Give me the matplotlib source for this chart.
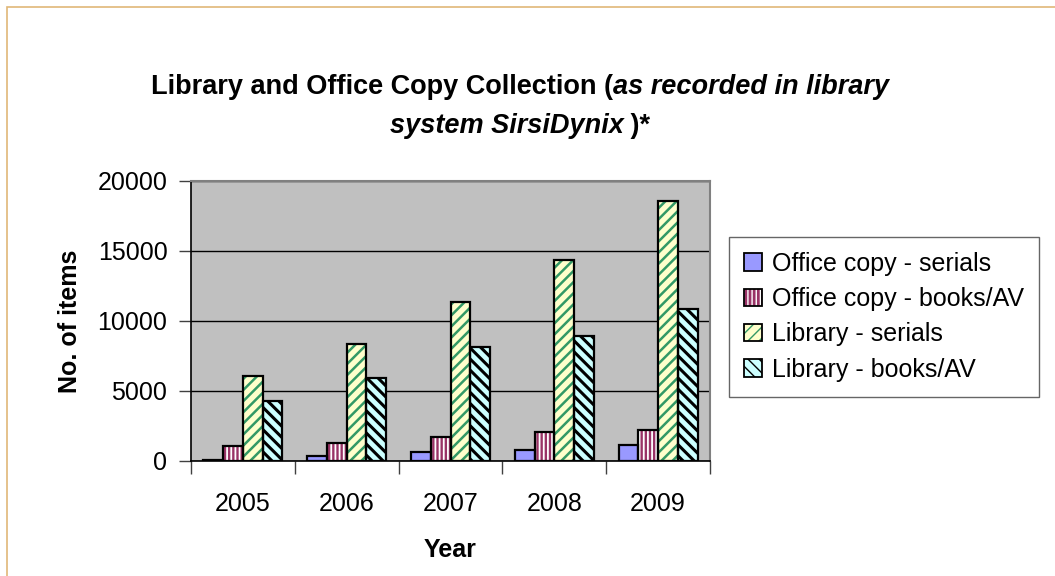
import numpy as np
import matplotlib
matplotlib.use("Agg")
import matplotlib.pyplot as plt
from matplotlib.patches import Patch, Rectangle
from matplotlib.legend_handler import HandlerTuple

plt.rcParams['font.family'] = ['Liberation Sans', 'DejaVu Sans']

# data
years = ['2005', '2006', '2007', '2008', '2009']
office_serials = [100, 390, 620, 770, 1140]
office_books = [1050, 1290, 1690, 2070, 2190]
library_serials = [6050, 8390, 11360, 14340, 18570]
library_books = [4260, 5930, 8120, 8930, 10860]

series = [
    ('Office copy - serials', office_serials),
    ('Office copy - books/AV', office_books),
    ('Library - serials', library_serials),
    ('Library - books/AV', library_books),
]
# face colour, hatch, hatch colour, hatch linewidth
styles = [
    ('#9999FF', '', '#9999FF', 1.0),
    ('#993366', '||||', 'white', 1.3),
    ('#FFFFCC', '///', '#339966', 1.8),
    ('#CCFFFF', '\\\\\\', 'black', 2.2),
]

W, H = 1055, 576
fig = plt.figure(figsize=(W / 100, H / 100), dpi=100)
fig.patch.set_facecolor('white')

# tan chart-area border
fig.add_artist(Rectangle((7 / W, -0.1), 1.2, 1 - 7 / H + 0.1, transform=fig.transFigure,
                         fill=False, edgecolor='#E0B878', linewidth=1.2))

ax = fig.add_axes([191 / W, 1 - 461 / H, 519 / W, 280 / H])
ax.set_facecolor('#C0C0C0')

x = np.arange(len(years))
bw = 0.19
handles = []
for k, ((name, vals), (fc, hatch, hc, hlw)) in enumerate(zip(series, styles)):
    pos = x + (k - 1.5) * bw
    with plt.rc_context({'hatch.linewidth': hlw}):
        ax.bar(pos, vals, bw, facecolor=fc, hatch=hatch, edgecolor=hc, linewidth=0, zorder=3)
        h1 = Patch(facecolor=fc, hatch=hatch, edgecolor=hc, linewidth=0)
    ax.bar(pos, vals, bw, fill=False, edgecolor='black', linewidth=1.6, zorder=4)
    h2 = Patch(fill=False, edgecolor='black', linewidth=1.3)
    handles.append((h1, h2))

ax.set_xlim(-0.5, len(years) - 0.5)
ax.set_ylim(0, 20000)
ax.set_yticks(np.arange(0, 20001, 5000))
ax.yaxis.grid(True, color='black', linewidth=1.0)
ax.set_axisbelow(True)

ax.set_xticks(x)
ax.set_xticklabels(years, fontsize=18)
ax.set_xticks(np.arange(len(years) + 1) - 0.5, minor=True)
ax.tick_params(axis='x', which='major', length=0, pad=22)
ax.tick_params(axis='x', which='minor', length=9, width=1, color='#404040', direction='out')
ax.tick_params(axis='y', labelsize=18, length=9, width=1, color='#404040', pad=8)

for s in ['top', 'right']:
    ax.spines[s].set_color('#808080')
    ax.spines[s].set_linewidth(1.5)
for s in ['left', 'bottom']:
    ax.spines[s].set_color('black')
    ax.spines[s].set_linewidth(1.2)

ax.set_xlabel('Year', fontsize=18, fontweight='bold', labelpad=16)
ax.set_ylabel('No. of items', fontsize=18, fontweight='bold', labelpad=11)

leg = ax.legend(handles, [s[0] for s in series], handler_map={tuple: HandlerTuple(ndivide=1, pad=0)},
                loc='upper left', bbox_to_anchor=(729 / W, 1 - 237 / H), bbox_transform=fig.transFigure,
                fontsize=18, frameon=True, fancybox=False, handlelength=0.7, handleheight=0.7,
                handletextpad=0.4, labelspacing=0.45, borderpad=0.6, borderaxespad=0)
leg.get_frame().set_edgecolor('#404040')
leg.get_frame().set_linewidth(1.0)

# title with italic pieces, centred line by line
title_lines = [
    [('Library and Office Copy Collection (', 'normal'), ('as recorded in library', 'italic')],
    [('system SirsiDynix', 'italic'), (' )*', 'normal')],
]
renderer = fig.canvas.get_renderer()
cx = 520 / W
for line, yc in zip(title_lines, [87, 126]):
    texts = [fig.text(0, 1 - yc / H, t, fontsize=19.5, fontweight='bold', style=st, va='center')
             for t, st in line]
    widths = [t.get_window_extent(renderer).width / W for t in texts]
    xs = cx - sum(widths) / 2
    for t, w in zip(texts, widths):
        t.set_x(xs)
        xs += w

fig.savefig('out.png', dpi=100)
